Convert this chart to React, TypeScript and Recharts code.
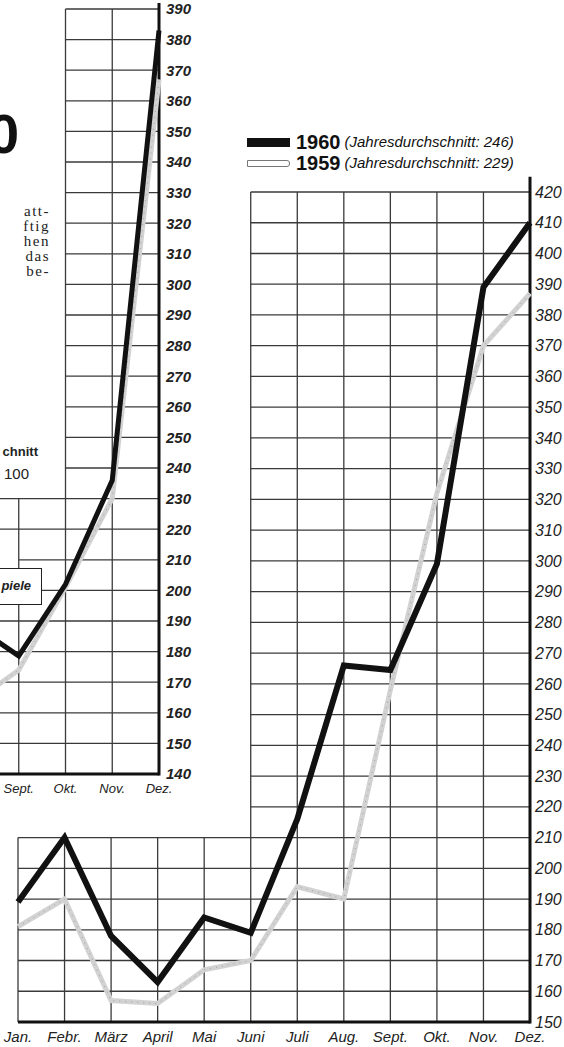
import React from 'react';
import { LineChart, Line, XAxis, YAxis, ReferenceLine } from 'recharts';

// ---------- main chart (Jan - Dez) ----------
const months = ['Jan.', 'Febr.', 'März', 'April', 'Mai', 'Juni', 'Juli', 'Aug.', 'Sept.', 'Okt.', 'Nov.', 'Dez.'];
const index1960 = [189, 210, 178, 163, 184, 179, 216, 266, 264.5, 299, 389, 410];
const index1959 = [181, 190, 157, 156, 167, 170, 194, 190, 258, 322, 370, 387];
const mainTicks = [150, 160, 170, 180, 190, 200, 210, 220, 230, 240, 250, 260, 270, 280, 290, 300, 310, 320, 330, 340, 350, 360, 370, 380, 390, 400, 410, 420];

// ---------- partial chart on the left (Aug - Dez) ----------
const prevMonths = ['Aug.', 'Sept.', 'Okt.', 'Nov.', 'Dez.'];
const prevLabels = ['Sept.', 'Okt.', 'Nov.', 'Dez.'];
const prevBlack = [189, 178.6, 202, 236, 383];
const prevGray = [163, 174, 201, 230, 367];
const prevTicks = [140, 150, 160, 170, 180, 190, 200, 210, 220, 230, 240, 250, 260, 270, 280, 290, 300, 310, 320, 330, 340, 350, 360, 370, 380, 390];

const legendItems = [
  { year: '1960', note: '(Jahresdurchschnitt: 246)' },
  { year: '1959', note: '(Jahresdurchschnitt: 229)' },
];

const sideText = ['att-', 'ftig', 'hen', 'das', 'be-'];

const mainData = months.map((m, i) => ({ month: m, y1960: index1960[i], y1959: index1959[i] }));
const prevData = prevMonths.map((m, i) => ({ month: m, black: prevBlack[i], gray: prevGray[i] }));

const GRID = '#3a3a3a';
const SANS = 'Liberation Sans, Arial, sans-serif';

function mainGrid() {
  const els: React.ReactNode[] = [];
  const first = months[0];
  const last = months[months.length - 1];
  const split = months[5]; // Juni
  mainTicks.forEach((t) => {
    if (t === 150) return;
    const from = t <= 210 ? first : split;
    els.push(
      <ReferenceLine key={'h' + t} segment={[{ x: from, y: t }, { x: last, y: t }]} stroke={GRID} strokeWidth={1.3} ifOverflow="visible" />
    );
  });
  months.forEach((m, i) => {
    if (i === months.length - 1) return;
    const top = i >= 5 ? 420 : 210;
    els.push(
      <ReferenceLine key={'v' + m} segment={[{ x: m, y: 150 }, { x: m, y: top }]} stroke={GRID} strokeWidth={1.3} ifOverflow="visible" />
    );
  });
  els.push(<ReferenceLine key="ax-b" segment={[{ x: first, y: 150 }, { x: last, y: 150 }]} stroke="#111" strokeWidth={3} ifOverflow="visible" />);
  els.push(<ReferenceLine key="ax-r" segment={[{ x: last, y: 149.5 }, { x: last, y: 425 }]} stroke="#111" strokeWidth={3} ifOverflow="visible" />);
  return els;
}

function prevGrid() {
  const els: React.ReactNode[] = [];
  const [aug, sept, okt, nov, dez] = prevMonths;
  prevTicks.forEach((t) => {
    if (t === 140) return;
    let from = aug;
    if (t >= 240) from = okt;
    else if (t === 210) from = sept;
    els.push(
      <ReferenceLine key={'h' + t} segment={[{ x: from, y: t }, { x: dez, y: t }]} stroke={GRID} strokeWidth={1.3} ifOverflow="visible" />
    );
  });
  els.push(<ReferenceLine key="v-sept" segment={[{ x: sept, y: 140 }, { x: sept, y: 230 }]} stroke={GRID} strokeWidth={1.3} ifOverflow="visible" />);
  els.push(<ReferenceLine key="v-okt" segment={[{ x: okt, y: 140 }, { x: okt, y: 390 }]} stroke={GRID} strokeWidth={1.3} ifOverflow="visible" />);
  els.push(<ReferenceLine key="v-nov" segment={[{ x: nov, y: 140 }, { x: nov, y: 390 }]} stroke={GRID} strokeWidth={1.3} ifOverflow="visible" />);
  els.push(<ReferenceLine key="ax-b" segment={[{ x: aug, y: 140 }, { x: dez, y: 140 }]} stroke="#111" strokeWidth={3} ifOverflow="visible" />);
  els.push(<ReferenceLine key="ax-r" segment={[{ x: dez, y: 139.5 }, { x: dez, y: 392 }]} stroke="#111" strokeWidth={3} ifOverflow="visible" />);
  return els;
}

export default function App() {
  return (
    <div style={{ position: 'absolute', left: 0, top: 0, width: 564, height: 1047, overflow: 'hidden', background: '#fff' }}>
      {/* big title fragment */}
      <div style={{ position: 'absolute', left: -12, top: 106, fontFamily: SANS, fontWeight: 700, fontSize: 56, lineHeight: '56px', color: '#111' }}>0</div>

      {/* body text fragments */}
      <div style={{ position: 'absolute', left: 0, top: 204, width: 50, textAlign: 'right', fontFamily: 'Liberation Serif, serif', fontSize: 15, lineHeight: '15px', letterSpacing: 1.5, color: '#222' }}>
        {sideText.map((s) => (
          <div key={s}>{s}</div>
        ))}
      </div>

      <div style={{ position: 'absolute', left: -10, top: 444, width: 48, textAlign: 'right', fontFamily: SANS, fontWeight: 700, fontSize: 13, lineHeight: '16px', color: '#222' }}>chnitt</div>
      <div style={{ position: 'absolute', left: 4, top: 466, fontFamily: SANS, fontSize: 15, lineHeight: '16px', color: '#222' }}>100</div>

      {/* left partial chart */}
      <div style={{ position: 'absolute', left: -28, top: 0 }}>
        <LineChart width={232} height={804} data={prevData} margin={{ top: 9, right: 0, bottom: 0, left: 0 }}>
          {prevGrid()}
          <XAxis dataKey="month" ticks={prevLabels} height={30} axisLine={false} tickLine={false} tickSize={0} tickMargin={10} interval={0} padding={{ left: 0, right: 0 }}
            tick={{ fill: '#222', fontSize: 13, fontStyle: 'italic', fontFamily: SANS }} />
          <YAxis orientation="right" type="number" domain={[140, 390]} ticks={prevTicks} interval={0} width={45} axisLine={false} tickLine={false} tickSize={0} tickMargin={7}
            tick={{ fill: '#222', fontSize: 15, fontStyle: 'italic', fontWeight: 700, fontFamily: SANS }} />
          <Line dataKey="gray" stroke="#d2d2d2" strokeWidth={5} dot={false} isAnimationActive={false} />
          <Line dataKey="gray" stroke="#a0a0a0" strokeWidth={1} strokeDasharray="1 5" dot={false} isAnimationActive={false} />
          <Line dataKey="black" stroke="#111" strokeWidth={5} dot={false} isAnimationActive={false} />
        </LineChart>
      </div>

      {/* box fragment */}
      <div style={{ position: 'absolute', left: -4, top: 568, width: 44, height: 35, border: '1.5px solid #222', background: '#fff', boxSizing: 'content-box' }}>
        <div style={{ position: 'absolute', right: 10, top: 9, fontFamily: SANS, fontWeight: 700, fontStyle: 'italic', fontSize: 13, lineHeight: '16px', color: '#222' }}>piele</div>
      </div>

      {/* main chart */}
      <div style={{ position: 'absolute', left: 0, top: 0 }}>
        <LineChart width={564} height={1047} data={mainData} margin={{ top: 192, right: 0, bottom: 0, left: 18 }}>
          {mainGrid()}
          <XAxis dataKey="month" height={25} axisLine={false} tickLine={false} tickSize={0} tickMargin={9} interval={0} padding={{ left: 0, right: 0 }}
            tick={{ fill: '#222', fontSize: 15, fontStyle: 'italic', fontFamily: SANS }} />
          <YAxis orientation="right" type="number" domain={[150, 420]} ticks={mainTicks} interval={0} width={34} axisLine={false} tickLine={false} tickSize={0} tickMargin={5}
            tick={{ fill: '#222', fontSize: 16, fontStyle: 'italic', fontFamily: SANS }} />
          <Line dataKey="y1959" stroke="#d2d2d2" strokeWidth={5} dot={false} isAnimationActive={false} />
          <Line dataKey="y1959" stroke="#a0a0a0" strokeWidth={1} strokeDasharray="1 5" dot={false} isAnimationActive={false} />
          <Line dataKey="y1960" stroke="#111" strokeWidth={6} dot={false} isAnimationActive={false} />
        </LineChart>
      </div>

      {/* legend */}
      {legendItems.map((it, i) => (
        <div key={it.year} style={{ position: 'absolute', left: 247, top: 131 + i * 21, height: 22, display: 'flex', alignItems: 'center', whiteSpace: 'nowrap', color: '#111' }}>
          {i === 0 ? (
            <div style={{ width: 43, height: 9, background: '#111' }} />
          ) : (
            <div style={{ width: 41, height: 5, border: '1.2px solid #777', borderRadius: '0 3px 3px 0', background: '#fff' }} />
          )}
          <span style={{ marginLeft: 6, fontFamily: SANS, fontWeight: 700, fontSize: 20, lineHeight: '22px' }}>{it.year}</span>
          <span style={{ marginLeft: 4, fontFamily: SANS, fontStyle: 'italic', fontSize: 15, lineHeight: '22px' }}>{it.note}</span>
        </div>
      ))}
    </div>
  );
}
